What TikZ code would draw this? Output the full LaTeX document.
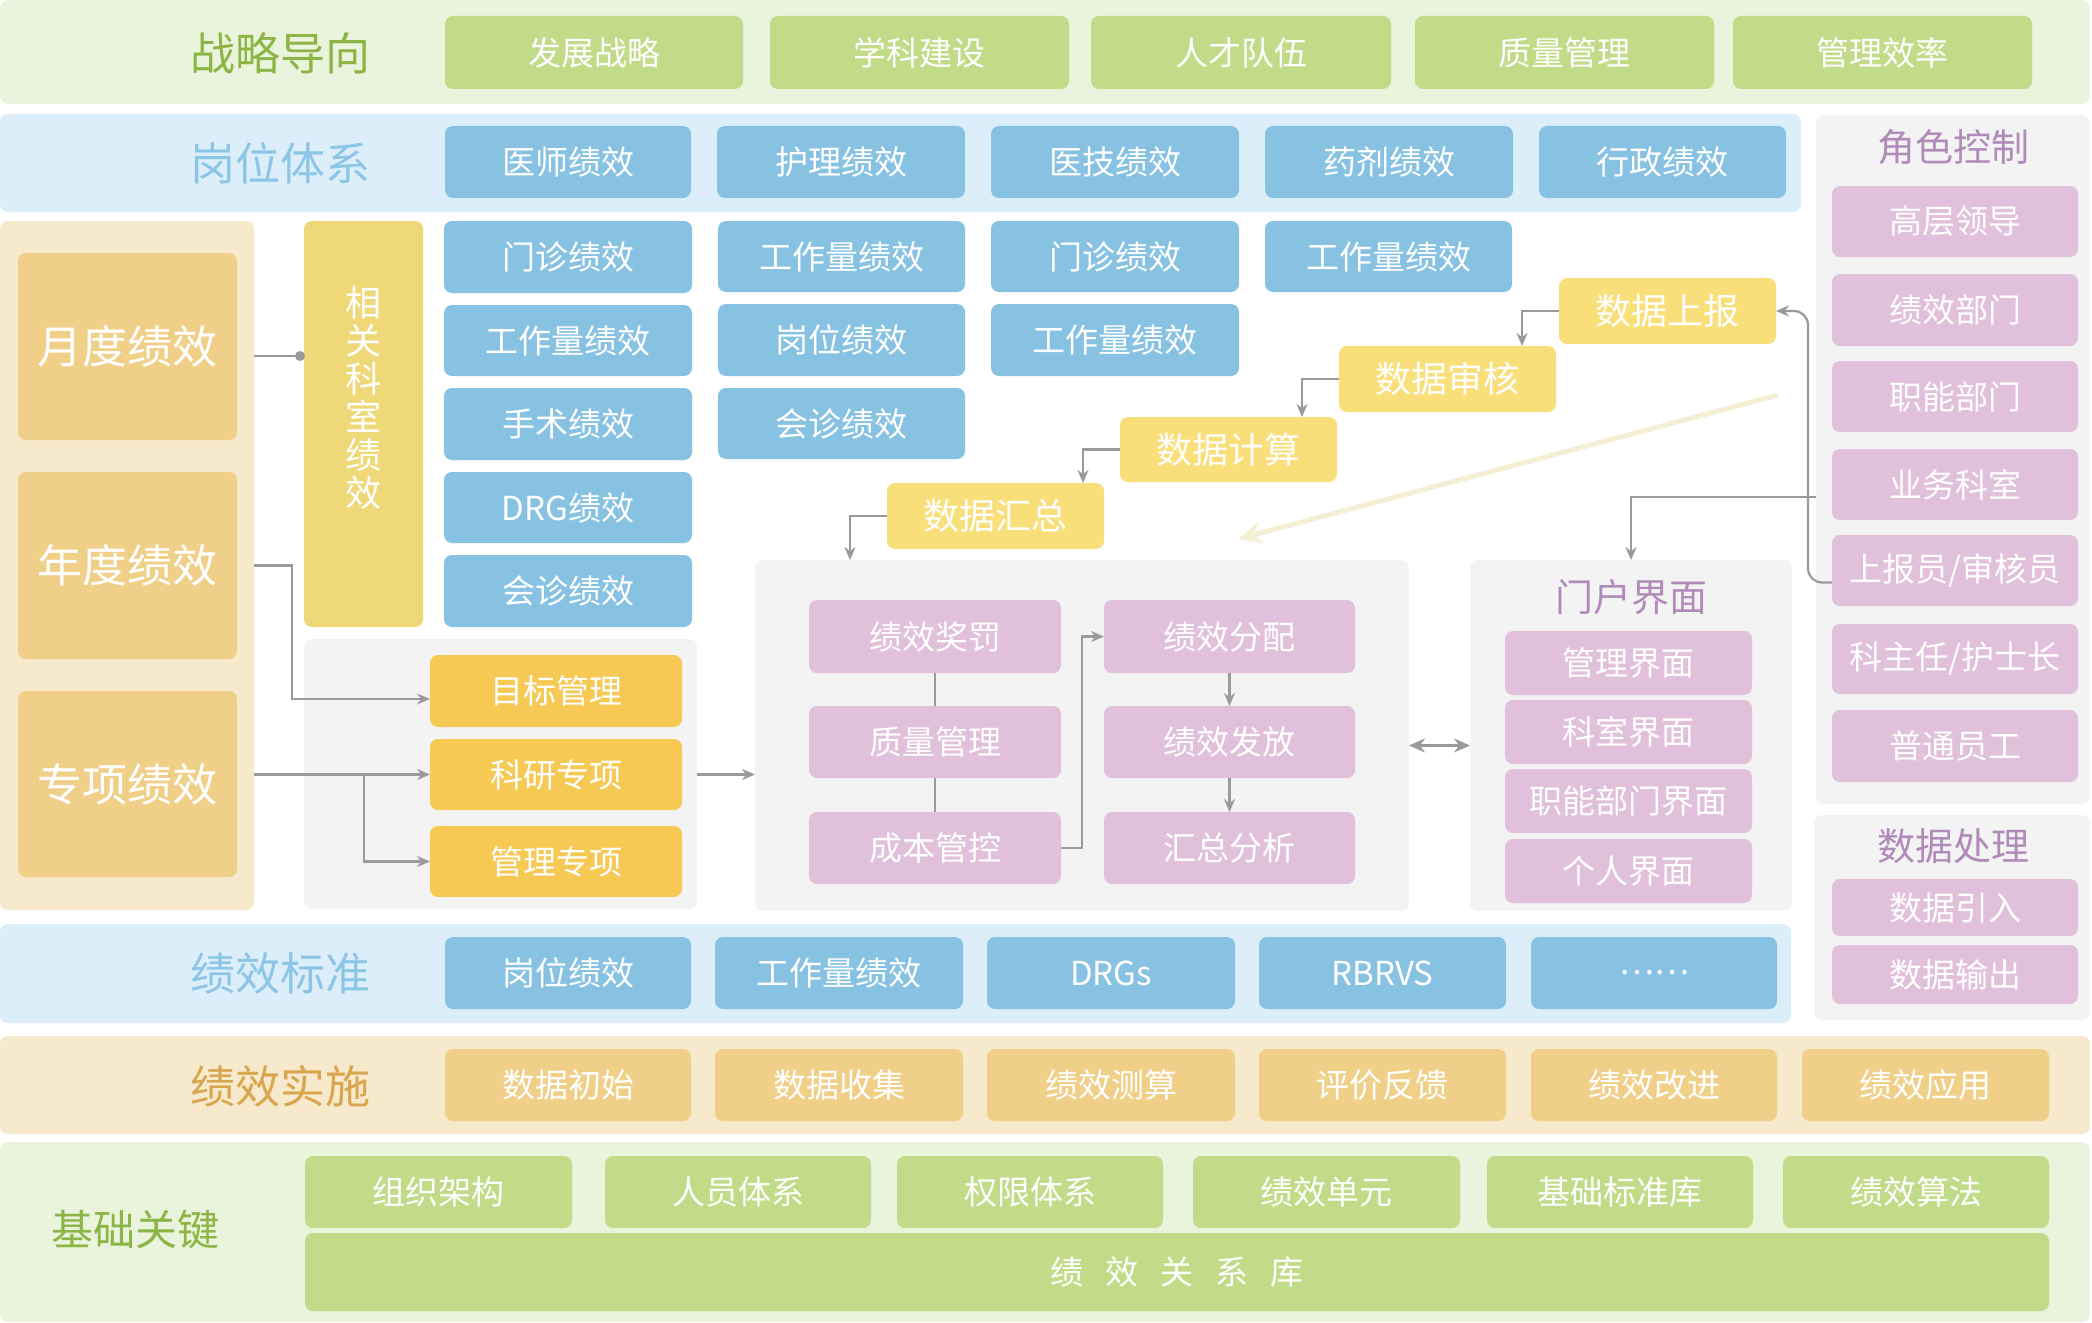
\documentclass[tikz,border=0pt]{standalone}
\usepackage{fontspec}
\setmainfont{Noto Sans CJK SC}
\usetikzlibrary{arrows.meta}
\definecolor{bandG}{HTML}{EAF3DC}
\definecolor{boxG}{HTML}{C2DB88}
\definecolor{labG}{HTML}{8DB546}
\definecolor{bandB}{HTML}{DCEEF9}
\definecolor{boxB}{HTML}{88C2E2}
\definecolor{labB}{HTML}{8BC6E6}
\definecolor{bandO}{HTML}{F7E9CC}
\definecolor{boxO}{HTML}{F0D088}
\definecolor{labO}{HTML}{D9A54E}
\definecolor{yelV}{HTML}{EFD878}
\definecolor{boxY}{HTML}{F6C955}
\definecolor{boxD}{HTML}{F9DF7A}
\definecolor{panelG}{HTML}{F3F3F3}
\definecolor{pinkB}{HTML}{E0C0DA}
\definecolor{purp}{HTML}{B08AB8}
\definecolor{connc}{HTML}{9A9A9A}
\definecolor{beige}{HTML}{F5EFD5}
\newcommand\myfs[1]{\fontsize{#1pt}{#1pt}\selectfont}
\newcommand\mybox[7]{%
  \pgfmathsetmacro\mbw{(#5-#3)*0.5}%
  \pgfmathsetmacro\mbh{(#6-#4)*0.5}%
  \node[#1,minimum width=\mbw pt,minimum height=\mbh pt] (#2) at ({(#3+#5)/2},{(#4+#6)/2}) {#7};%
}
\tikzset{
  base/.style={rounded corners=4pt, inner sep=0pt, outer sep=0pt, text=white, font=\myfs{16.5}},
  band/.style={base},
  gbox/.style={base, fill=boxG},
  bbox/.style={base, fill=boxB},
  obox/.style={base, fill=boxO},
  ybox/.style={base, fill=boxY},
  dbox/.style={base, fill=boxD, font=\myfs{18}},
  pbox/.style={base, fill=pinkB},
  panel/.style={base, fill=panelG},
  lab/.style={inner sep=0pt, font=\myfs{22.5}},
  ptitle/.style={inner sep=0pt, font=\myfs{19}, text=purp},
  conn/.style={draw=connc, line width=1.1pt},
  arr/.style={conn, -{Stealth[length=6.5pt,width=5.5pt]}},
  arrtwo/.style={conn, {Stealth[length=8pt,width=7pt]}-{Stealth[length=8pt,width=7pt]}}
}
\begin{document}
\begin{tikzpicture}[x=0.5pt,y=-0.5pt]
\fill[white] (0,0) rectangle (2092,1322);
\useasboundingbox (0,0) rectangle (2092,1322);

% ===== 战略导向 =====
\mybox{band,fill=bandG}{bandS}{0}{0}{2090}{104}{}
\node[lab,text=labG] (labS) at (280,53) {战略导向};
\mybox{gbox}{s1}{445}{16}{743}{89}{发展战略}
\mybox{gbox}{s2}{770}{16}{1069}{89}{学科建设}
\mybox{gbox}{s3}{1091}{16}{1391}{89}{人才队伍}
\mybox{gbox}{s4}{1415}{16}{1714}{89}{质量管理}
\mybox{gbox}{s5}{1733}{16}{2032}{89}{管理效率}

% ===== 岗位体系 =====
\mybox{band,fill=bandB}{bandP}{0}{114}{1801}{212}{}
\node[lab,text=labB] (labP) at (280,163) {岗位体系};
\mybox{bbox}{p1}{445}{126}{691}{198}{医师绩效}
\mybox{bbox}{p2}{717}{126}{965}{198}{护理绩效}
\mybox{bbox}{p3}{991}{126}{1239}{198}{医技绩效}
\mybox{bbox}{p4}{1265}{126}{1513}{198}{药剂绩效}
\mybox{bbox}{p5}{1539}{126}{1786}{198}{行政绩效}

% ===== left panel =====
\mybox{band,fill=bandO}{lp}{0}{221}{254}{910}{}
\mybox{obox,font=\myfs{22.5}}{yd}{18}{253}{237}{440}{月度绩效}
\mybox{obox,font=\myfs{22.5}}{nd}{18}{472}{237}{659}{年度绩效}
\mybox{obox,font=\myfs{22.5}}{zx}{18}{691}{237}{877}{专项绩效}

% vertical yellow box
\mybox{base,fill=yelV}{xg}{304}{221}{423}{627}{}
\node[inner sep=0pt,text=white,align=center,font=\fontsize{18pt}{19pt}\selectfont] (xgt) at (363,398) {相\\关\\科\\室\\绩\\效};

% blue columns
\mybox{bbox}{c11}{444}{221}{692}{293}{门诊绩效}
\mybox{bbox}{c12}{444}{305}{692}{376}{工作量绩效}
\mybox{bbox}{c13}{444}{388}{692}{460}{手术绩效}
\mybox{bbox}{c14}{444}{472}{692}{543}{DRG绩效}
\mybox{bbox}{c15}{444}{555}{692}{627}{会诊绩效}
\mybox{bbox}{c21}{718}{221}{965}{292}{工作量绩效}
\mybox{bbox}{c22}{718}{304}{965}{376}{岗位绩效}
\mybox{bbox}{c23}{718}{388}{965}{459}{会诊绩效}
\mybox{bbox}{c31}{991}{221}{1239}{292}{门诊绩效}
\mybox{bbox}{c32}{991}{304}{1239}{376}{工作量绩效}
\mybox{bbox}{c41}{1265}{221}{1512}{292}{工作量绩效}

% panel 2
\mybox{panel}{pn}{304}{639}{697}{909}{}
\mybox{ybox}{mb}{430}{655}{682}{727}{目标管理}
\mybox{ybox}{ky}{430}{739}{682}{810}{科研专项}
\mybox{ybox}{gl}{430}{826}{682}{897}{管理专项}

% data chain
\mybox{dbox}{sb}{1559}{278}{1776}{344}{数据上报}
\mybox{dbox}{sh}{1339}{346}{1556}{412}{数据审核}
\mybox{dbox}{js}{1120}{417}{1337}{482}{数据计算}
\mybox{dbox}{hz}{887}{483}{1104}{549}{数据汇总}

% center panel
\mybox{panel}{cp}{755}{560}{1409}{911}{}
\mybox{pbox}{a1}{809}{600}{1061}{673}{绩效奖罚}
\mybox{pbox}{a2}{809}{706}{1061}{778}{质量管理}
\mybox{pbox}{a3}{809}{812}{1061}{884}{成本管控}
\mybox{pbox}{b1}{1104}{600}{1355}{673}{绩效分配}
\mybox{pbox}{b2}{1104}{706}{1355}{778}{绩效发放}
\mybox{pbox}{b3}{1104}{812}{1355}{884}{汇总分析}

% portal panel
\mybox{panel}{pp}{1470}{560}{1792}{911}{}
\node[ptitle] (ppt) at (1631,597) {门户界面};
\mybox{pbox}{m1}{1505}{631}{1752}{695}{管理界面}
\mybox{pbox}{m2}{1505}{700}{1752}{764}{科室界面}
\mybox{pbox}{m3}{1505}{769}{1752}{833}{职能部门界面}
\mybox{pbox}{m4}{1505}{839}{1752}{903}{个人界面}

% role panel
\mybox{panel}{rp}{1816}{115}{2090}{804}{}
\node[ptitle] (rpt) at (1953,147) {角色控制};
\mybox{pbox}{r1}{1832}{186}{2078}{257}{高层领导}
\mybox{pbox}{r2}{1832}{274}{2078}{346}{绩效部门}
\mybox{pbox}{r3}{1832}{361}{2078}{432}{职能部门}
\mybox{pbox}{r4}{1832}{449}{2078}{520}{业务科室}
\mybox{pbox}{sy}{1832}{535}{2078}{606}{上报员/审核员}
\mybox{pbox}{r6}{1832}{624}{2078}{694}{科主任/护士长}
\mybox{pbox}{r7}{1832}{710}{2078}{782}{普通员工}

% data processing panel
\mybox{panel}{dp}{1814}{815}{2090}{1020}{}
\node[ptitle] (dpt) at (1953,846) {数据处理};
\mybox{pbox}{d1}{1832}{879}{2078}{936}{数据引入}
\mybox{pbox}{d2}{1832}{945}{2078}{1004}{数据输出}

% ===== 绩效标准 =====
\mybox{band,fill=bandB}{bandB1}{0}{924}{1791}{1023}{}
\node[lab,text=labB] (labB1) at (280,973) {绩效标准};
\mybox{bbox}{q1}{445}{937}{691}{1009}{岗位绩效}
\mybox{bbox}{q2}{715}{937}{963}{1009}{工作量绩效}
\mybox{bbox}{q3}{987}{937}{1235}{1009}{DRGs}
\mybox{bbox}{q4}{1259}{937}{1506}{1009}{RBRVS}
\mybox{bbox}{q5}{1531}{937}{1777}{1009}{……}

% ===== 绩效实施 =====
\mybox{band,fill=bandO}{bandO1}{0}{1036}{2090}{1134}{}
\node[lab,text=labO] (labO1) at (280,1086) {绩效实施};
\mybox{obox}{e1}{445}{1049}{691}{1121}{数据初始}
\mybox{obox}{e2}{715}{1049}{963}{1121}{数据收集}
\mybox{obox}{e3}{987}{1049}{1235}{1121}{绩效测算}
\mybox{obox}{e4}{1259}{1049}{1506}{1121}{评价反馈}
\mybox{obox}{e5}{1531}{1049}{1777}{1121}{绩效改进}
\mybox{obox}{e6}{1802}{1049}{2049}{1121}{绩效应用}

% ===== 基础关键 =====
\mybox{band,fill=bandG}{bandG1}{0}{1142}{2090}{1322}{}
\node[lab,text=labG,font=\myfs{21}] (labG1) at (135,1230) {基础关键};
\mybox{gbox}{f1}{305}{1156}{572}{1228}{组织架构}
\mybox{gbox}{f2}{605}{1156}{871}{1228}{人员体系}
\mybox{gbox}{f3}{897}{1156}{1163}{1228}{权限体系}
\mybox{gbox}{f4}{1193}{1156}{1460}{1228}{绩效单元}
\mybox{gbox}{f5}{1487}{1156}{1753}{1228}{基础标准库}
\mybox{gbox}{f6}{1783}{1156}{2049}{1228}{绩效算法}
\mybox{gbox}{fk}{305}{1233}{2049}{1311}{绩\hspace{11pt}效\hspace{11pt}关\hspace{11pt}系\hspace{11pt}库}

% ===== connectors =====
\node[circle,fill=connc,inner sep=0pt,minimum size=5pt] (dot) at (300,356) {};
\draw[conn] (lp.east |- dot) -- (dot);
\draw[arr] (lp.east |- nd.east) -- ++(38,0) |- ([yshift=-4pt]mb.west);
\draw[arr] (lp.east |- ky.west) -- (ky.west);
\draw[arr] ([xshift=55pt]lp.east |- ky.west) |- (gl.west);
\draw[arr] (pn.east |- ky.west) -- (cp.west |- ky.west);

\draw[arr] (sb.west) -| ([xshift=-17pt]sh.north east);
\draw[arr] (sh.west) -| ([xshift=-17.5pt]js.north east);
\draw[arr] (js.west) -| ([xshift=-10.5pt]hz.north east);
\draw[arr] (hz.west) -| ([xshift=47.5pt]cp.north west);

\coordinate (bA) at (1778,395);
\coordinate (bB) at (1238,539);
\draw[draw=beige,line width=2.5pt,-{Stealth[length=12pt,width=11pt]}] (bA) -- (bB);

\coordinate (rq) at (1816,497);
\draw[arr] (rq) -| (pp.north);
\draw[arr,rounded corners=7pt] ([yshift=-6pt]sy.west) -| (1808,311) -- (sb.east);

\draw[conn] (a1.south) -- (a2.north);
\draw[conn] (a2.south) -- (a3.north);
\draw[arr] (a3.east) -- ++(21,0) |- (b1.west);
\draw[arr] (b1.south) -- (b2.north);
\draw[arr] (b2.south) -- (b3.north);
\draw[arrtwo] ([yshift=-5pt]cp.east) -- ([yshift=-5pt]pp.west);
\end{tikzpicture}
\end{document}
